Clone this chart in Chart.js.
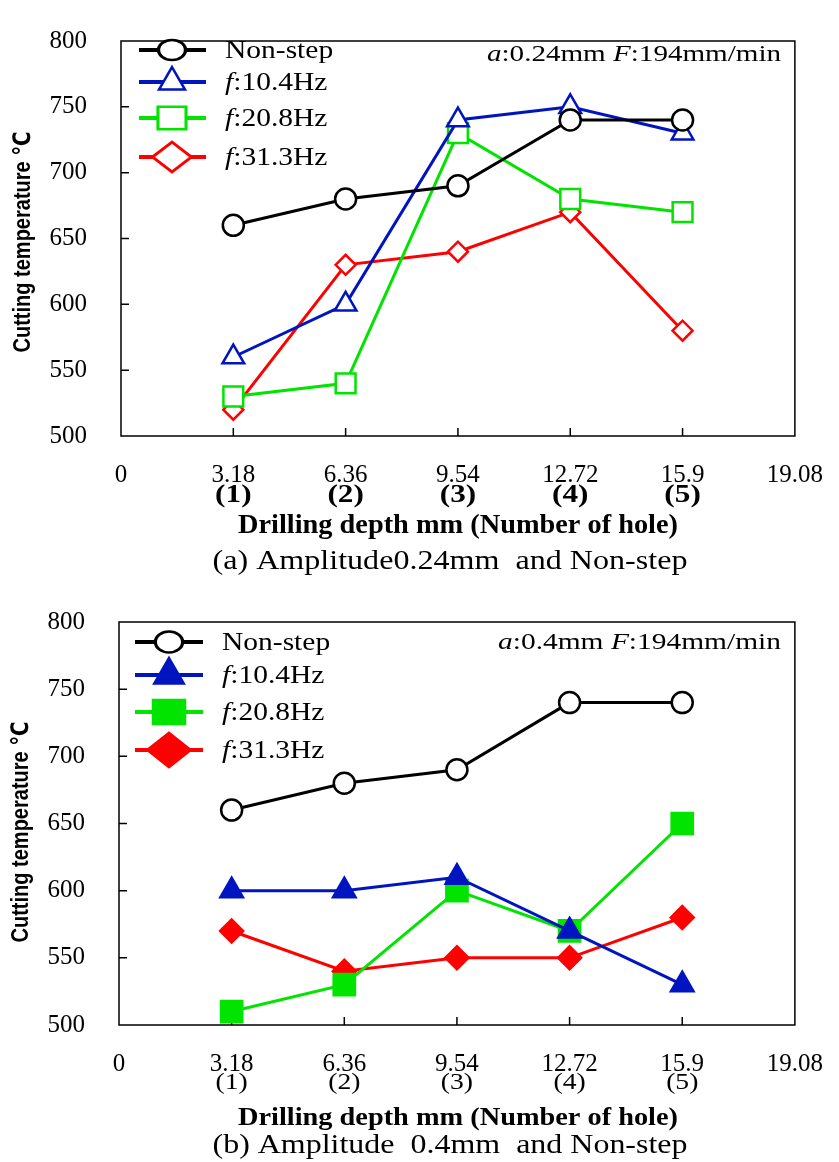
<!DOCTYPE html>
<html>
<head>
<meta charset="utf-8">
<script src="https://cdn.jsdelivr.net/npm/chart.js@4.4.1/dist/chart.umd.min.js"></script>
<style>
  html, body { margin: 0; padding: 0; background: #fff; }
  #wrap { position: relative; width: 839px; height: 1162px; }
  canvas { position: absolute; left: 0; }
</style>
</head>
<body>
<div id="wrap">
  <canvas id="chartA" width="839" height="581" style="top:0"></canvas>
  <canvas id="chartB" width="839" height="581" style="top:581px"></canvas>
</div>
<script>
// Drilling depth (mm) of each hole and the axis ticks
const depth = [3.18, 6.36, 9.54, 12.72, 15.9];
const xTickValues = [0, 3.18, 6.36, 9.54, 12.72, 15.9, 19.08];
const xTickLabels = ['0', '3.18', '6.36', '9.54', '12.72', '15.9', '19.08'];
const holeLabels = ['', '(1)', '(2)', '(3)', '(4)', '(5)', ''];

// Cutting temperature (°C)
const nonStep = [660, 680, 690, 740, 740];
// amplitude 0.24 mm
const a024f104 = [560, 600, 740, 750, 730];
const a024f208 = [530, 540, 730, 680, 670];
const a024f313 = [520, 630, 640, 670, 580];
// amplitude 0.4 mm
const a04f104 = [600, 600, 610, 570, 530];
const a04f208 = [510, 530, 600, 570, 650];
const a04f313 = [570, 540, 550, 550, 580];

const seriesNames = ['Non-step', 'f:10.4Hz', 'f:20.8Hz', 'f:31.3Hz'];

const SERIF = "'Liberation Serif', 'Times New Roman', serif";
const SANS = "'Liberation Sans', 'DejaVu Sans', Arial, sans-serif";
const BLACK = '#000000', BLUE = '#0014c0', GREEN = '#00e400', RED = '#ff0000';

function pts(vals) { return vals.map((v, i) => ({ x: depth[i], y: v })); }

// draws a row of text pieces with their own fonts, stretched horizontally
function drawRuns(ctx, runs, x, y, align, opts) {
  let w = 0;
  runs.forEach(([t, f]) => { ctx.font = f; w += ctx.measureText(t).width; });
  let sx = opts.sx || 1;
  if (opts.width) sx = opts.width / w;
  ctx.save();
  ctx.translate(x, y);
  ctx.scale(sx, 1);
  ctx.textAlign = 'left';
  ctx.textBaseline = 'alphabetic';
  ctx.fillStyle = '#000';
  let cx = align === 'right' ? -w : (align === 'center' ? -w / 2 : 0);
  runs.forEach(([t, f]) => { ctx.font = f; ctx.fillText(t, cx, 0); cx += ctx.measureText(t).width; });
  ctx.restore();
}

function marker(ctx, style, r, cx, cy, sx, stroke, fill, bw) {
  ctx.save();
  ctx.translate(cx, cy);
  ctx.scale(sx, 1);
  ctx.strokeStyle = stroke;
  ctx.fillStyle = fill;
  ctx.lineWidth = bw;
  ctx.lineJoin = 'miter';
  Chart.helpers.drawPoint(ctx, { pointStyle: style, radius: r, rotation: 0, borderWidth: bw }, 0, 0);
  ctx.restore();
}

function panelPlugin(p) {
  return {
    id: 'panelDecor',
    beforeDatasetsDraw(chart) {
      const { ctx, chartArea: a, scales: { x, y } } = chart;
      ctx.save();
      ctx.strokeStyle = '#000';
      ctx.lineWidth = 1.5;
      ctx.strokeRect(a.left, a.top, a.right - a.left, a.bottom - a.top);
      ctx.beginPath();
      x.ticks.forEach(t => {
        if (t.value > x.min && t.value < x.max) {
          const px = x.getPixelForValue(t.value);
          ctx.moveTo(px, a.bottom); ctx.lineTo(px, a.bottom - 8);
        }
      });
      y.ticks.forEach(t => {
        if (t.value > y.min && t.value < y.max) {
          const py = y.getPixelForValue(t.value);
          ctx.moveTo(a.left, py); ctx.lineTo(a.left + 8, py);
        }
      });
      ctx.stroke();
      ctx.restore();
    },
    afterDraw(chart) {
      const { ctx, scales: { x } } = chart;
      const L = p.legend;
      // legend: line with marker, then label
      chart.data.datasets.forEach((ds, i) => {
        const ry = L.rows[i];
        ctx.save();
        ctx.strokeStyle = ds.borderColor;
        ctx.lineWidth = 4;
        ctx.beginPath();
        ctx.moveTo(L.x1, ry); ctx.lineTo(L.x2, ry);
        ctx.stroke();
        ctx.restore();
        const m = L.marks[i];
        marker(ctx, ds.pointStyle, m[0], L.mx, ry, m[1], ds.borderColor, ds.pointBackgroundColor, 2.5);
        const name = seriesNames[i];
        const runs = name.startsWith('f:')
          ? [['f', 'italic ' + L.font + 'px ' + SERIF], [name.slice(1), L.font + 'px ' + SERIF]]
          : [[name, L.font + 'px ' + SERIF]];
        drawRuns(ctx, runs, L.tx, ry + L.font * 0.33, 'left', { sx: L.sx });
      });
      // test conditions
      const A = p.note;
      const nf = A.font + 'px ' + SERIF, nfi = 'italic ' + A.font + 'px ' + SERIF;
      drawRuns(ctx, [['a', nfi], [':' + A.amp + ' ', nf], ['F', nfi], [':194mm/min', nf]],
        A.right, A.base, 'right', { width: A.width });
      // hole numbers under the depth ticks
      const H = p.holes;
      x.ticks.forEach((t, i) => {
        if (holeLabels[i]) {
          drawRuns(ctx, [[holeLabels[i], H.font]], x.getPixelForValue(t.value), H.base, 'center', { sx: H.sx });
        }
      });
      // axis titles and caption
      drawRuns(ctx, [['Drilling depth mm (Number of hole)', p.xTitle.font]], p.xTitle.cx, p.xTitle.base, 'center', { width: p.xTitle.width });
      drawRuns(ctx, [[p.caption.text, p.caption.font]], p.caption.cx, p.caption.base, 'center', { width: p.caption.width });
      const Y = p.yTitle;
      ctx.save();
      ctx.translate(Y.cx, Y.cy);
      ctx.rotate(-Math.PI / 2);
      ctx.font = 'bold 19px ' + SANS;
      const yt = 'Cutting temperature \u2103';
      const w = ctx.measureText(yt).width;
      ctx.scale(Y.len / w, 1.25);
      ctx.textAlign = 'center';
      ctx.textBaseline = 'middle';
      ctx.fillStyle = '#000';
      ctx.fillText(yt, 0, 0);
      ctx.restore();
    }
  };
}

function makeChart(id, sets, p) {
  const styles = ['circle', 'triangle', 'rect', 'rectRot'];
  const colors = [BLACK, BLUE, GREEN, RED];
  const datasets = sets.map((vals, i) => ({
    label: seriesNames[i],
    data: pts(vals),
    borderColor: colors[i],
    borderWidth: 3,
    pointStyle: styles[i],
    pointRadius: p.radii[i],
    pointHoverRadius: p.radii[i],
    pointBorderWidth: 2.5,
    pointBorderColor: colors[i],
    pointBackgroundColor: (i === 0 || !p.filled) ? '#ffffff' : colors[i],
    tension: 0,
    clip: false
  }));
  return new Chart(document.getElementById(id), {
    type: 'line',
    data: { datasets },
    options: {
      responsive: false,
      animation: false,
      devicePixelRatio: 1,
      layout: { padding: p.padding },
      plugins: { legend: { display: false }, tooltip: { enabled: false } },
      scales: {
        x: {
          type: 'linear', min: 0, max: 19.08,
          grid: { display: false }, border: { display: false },
          afterBuildTicks: s => { s.ticks = xTickValues.map(v => ({ value: v })); },
          afterFit: s => { s.height = p.xHeight; },
          ticks: {
            padding: 16, color: '#000', maxRotation: 0, autoSkip: false,
            font: { family: SERIF, size: 25 },
            callback: (v, i) => xTickLabels[i]
          }
        },
        y: {
          min: 500, max: 800,
          grid: { display: false }, border: { display: false },
          afterFit: s => { s.width = p.yWidth; },
          ticks: { stepSize: 50, padding: 26, color: '#000', font: { family: SERIF, size: 25 } }
        }
      }
    },
    plugins: [panelPlugin(p)]
  });
}

makeChart('chartA', [nonStep, a024f104, a024f208, a024f313], {
  padding: { left: 0, top: 24, right: 33, bottom: 0 },
  yWidth: 121, xHeight: 145,
  radii: [10.5, 12.5, 14, 10], filled: false,
  legend: { rows: [50, 82, 118, 157], x1: 139, x2: 206, mx: 172, tx: 225, font: 25, sx: 1.18,
            marks: [[10, 1.35], [15, 1], [16, 1.24], [15, 1.3]] },
  note: { amp: '0.24mm', right: 781, base: 61, width: 294, font: 24 },
  holes: { font: 'bold 25px ' + SERIF, base: 502, sx: 1.25 },
  xTitle: { font: 'bold 27px ' + SERIF, cx: 458, base: 533, width: 440 },
  caption: { text: '(a) Amplitude0.24mm  and Non-step', font: '27px ' + SERIF, cx: 450, base: 569, width: 475 },
  yTitle: { cx: 23, cy: 242, len: 221 }
});

makeChart('chartB', [nonStep, a04f104, a04f208, a04f313], {
  padding: { left: 0, top: 32, right: 34, bottom: 0 },
  yWidth: 119, xHeight: 137,
  radii: [10.5, 13, 15, 11.5], filled: true,
  legend: { rows: [61, 94, 131, 169], x1: 135, x2: 203, mx: 169, tx: 222, font: 25, sx: 1.18,
            marks: [[10.5, 1.3], [17, 1], [17, 1.3], [17, 1.26]] },
  note: { amp: '0.4mm', right: 781, base: 68, width: 283, font: 24 },
  holes: { font: '23px ' + SERIF, base: 508, sx: 1.2 },
  xTitle: { font: 'bold 26px ' + SERIF, cx: 458, base: 544, width: 440 },
  caption: { text: '(b) Amplitude  0.4mm  and Non-step', font: '27px ' + SERIF, cx: 450, base: 572, width: 475 },
  yTitle: { cx: 21, cy: 251, len: 221 }
});
</script>
</body>
</html>
